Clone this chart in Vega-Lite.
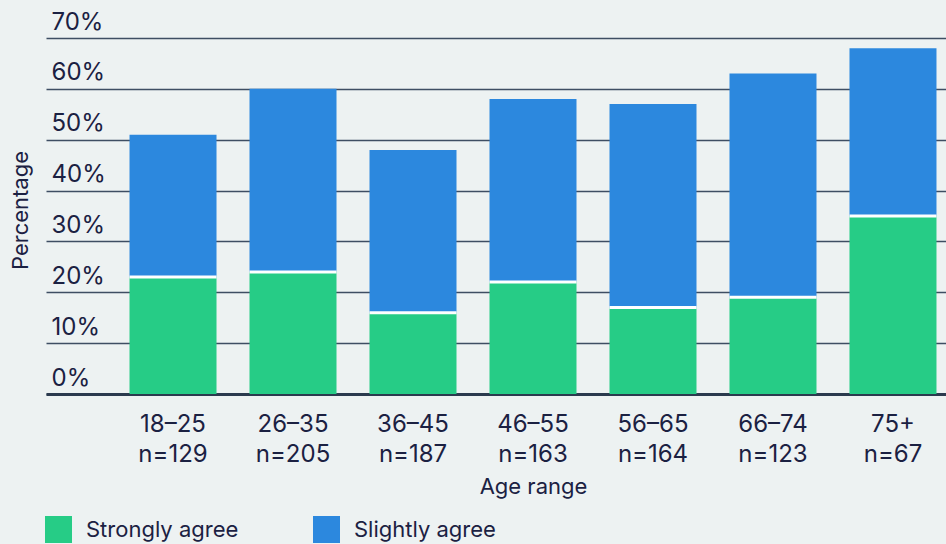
{
  "$schema": "https://vega.github.io/schema/vega-lite/v6.json",
  "width": 900,
  "height": 356,
  "autosize": {"type": "none"},
  "padding": {"left": 46, "top": 38, "right": 0, "bottom": 150},
  "background": "#EDF2F2",
  "config": {
    "font": "Inter",
    "view": {"stroke": null},
    "axis": {"titleFontWeight": "normal", "labelColor": "#1B2142", "titleColor": "#1B2142"}
  },
  "data": {
    "values": [
      {"group": "18–25|n=129", "response": "Strongly agree", "rank": 1, "value": 23},
      {"group": "18–25|n=129", "response": "Slightly agree", "rank": 2, "value": 28},
      {"group": "26–35|n=205", "response": "Strongly agree", "rank": 1, "value": 24},
      {"group": "26–35|n=205", "response": "Slightly agree", "rank": 2, "value": 36},
      {"group": "36–45|n=187", "response": "Strongly agree", "rank": 1, "value": 16},
      {"group": "36–45|n=187", "response": "Slightly agree", "rank": 2, "value": 32},
      {"group": "46–55|n=163", "response": "Strongly agree", "rank": 1, "value": 22},
      {"group": "46–55|n=163", "response": "Slightly agree", "rank": 2, "value": 36},
      {"group": "56–65|n=164", "response": "Strongly agree", "rank": 1, "value": 17},
      {"group": "56–65|n=164", "response": "Slightly agree", "rank": 2, "value": 40},
      {"group": "66–74|n=123", "response": "Strongly agree", "rank": 1, "value": 19},
      {"group": "66–74|n=123", "response": "Slightly agree", "rank": 2, "value": 44},
      {"group": "75+|n=67", "response": "Strongly agree", "rank": 1, "value": 35},
      {"group": "75+|n=67", "response": "Slightly agree", "rank": 2, "value": 33}
    ]
  },
  "layer": [
    {
      "mark": {"type": "bar"},
      "encoding": {
        "x": {
          "field": "group",
          "type": "nominal",
          "sort": null,
          "scale": {"range": [0, 974], "paddingInner": 0.275, "paddingOuter": 0.696},
          "axis": {
            "title": "Age range",
            "titleFontSize": 22,
            "titlePadding": 10,
            "labelExpr": "split(datum.value, '|')",
            "labelAngle": 0,
            "labelFontSize": 24,
            "labelLineHeight": 30,
            "labelPadding": 18,
            "ticks": false,
            "tickSize": 0,
            "domainColor": "#2B3A4E",
            "domainWidth": 3,
            "grid": false
          }
        },
        "y": {
          "field": "value",
          "type": "quantitative",
          "stack": "zero",
          "scale": {"domain": [0, 70], "nice": false},
          "axis": {
            "title": "Percentage",
            "titleFontSize": 22,
            "titleAngle": -90,
            "titleAlign": "center",
            "titleBaseline": "middle",
            "titleX": -26,
            "titleY": 172,
            "values": [0, 10, 20, 30, 40, 50, 60, 70],
            "labelExpr": "datum.value + '%'",
            "labelAlign": "left",
            "labelBaseline": "alphabetic",
            "labelPadding": -5,
            "labelOffset": -9,
            "labelFontSize": 24,
            "labelFlush": false,
            "labelOverlap": false,
            "ticks": false,
            "tickSize": 0,
            "domain": false,
            "grid": true,
            "gridColor": "#3E4E63",
            "gridWidth": 1.5
          }
        },
        "color": {
          "field": "response",
          "type": "nominal",
          "scale": {"domain": ["Strongly agree", "Slightly agree"], "range": ["#26CC86", "#2C88DE"]},
          "legend": {
            "orient": "none",
            "legendX": -1,
            "legendY": 478,
            "direction": "horizontal",
            "title": null,
            "padding": 0,
            "symbolType": "square",
            "symbolSize": 729,
            "symbolStrokeWidth": 0,
            "symbolOpacity": 1,
            "labelFontSize": 22,
            "labelColor": "#1B2142",
            "labelOffset": 14,
            "columnPadding": 74
          }
        },
        "order": {"field": "rank", "type": "quantitative"}
      }
    },
    {
      "transform": [{"filter": "datum.response === 'Strongly agree'"}],
      "mark": {"type": "tick", "color": "white", "thickness": 3, "size": 87, "opacity": 1},
      "encoding": {
        "x": {"field": "group", "type": "nominal", "sort": null},
        "y": {"field": "value", "type": "quantitative"}
      }
    }
  ]
}
